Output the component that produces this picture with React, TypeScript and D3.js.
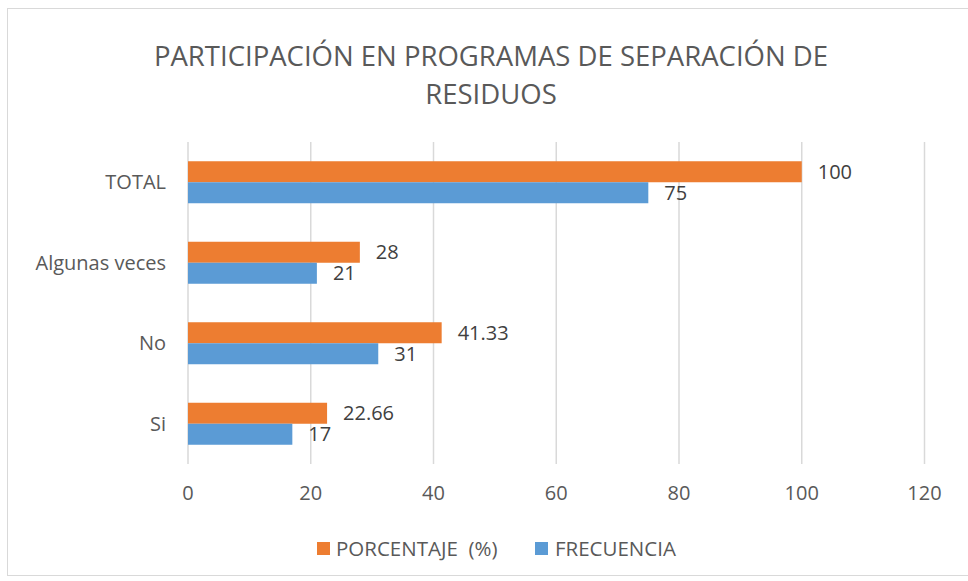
import React from "react";
import * as d3 from "d3";

// categories from top to bottom as in the picture
const categories = ["TOTAL", "Algunas veces", "No", "Si"];
const porcentaje = [100, 28, 41.33, 22.66];
const frecuencia = [75, 21, 31, 17];
const xTicks = [0, 20, 40, 60, 80, 100, 120];
const seriesNames = ["PORCENTAJE  (%)", "FRECUENCIA"];

const W = 968;
const H = 581;
const orange = "#ED7D31";
const blue = "#5B9BD5";
const font = "'Open Sans', sans-serif";

export default function App() {
  const x = d3.scaleLinear().domain([0, 120]).range([188, 924.5]);
  const y = d3.scaleBand().domain(categories).range([142, 464]).padding(0);
  const barH = 21;

  const series = [
    { name: seriesNames[0], values: porcentaje, color: orange, off: -barH },
    { name: seriesNames[1], values: frecuencia, color: blue, off: 0 },
  ];

  return (
    <svg
      width={W}
      height={H}
      style={{ position: "absolute", left: 0, top: 0, display: "block" }}
      fontFamily={font}
    >
      <rect x={0} y={0} width={W} height={H} fill="#fff" />
      <rect x={7.5} y={8.5} width={W} height={567} fill="none" stroke="#d9d9d9" strokeWidth={1} />

      {/* title */}
      <text x={491} y={66} textAnchor="middle" fontSize={27.5} fill="#595959">
        PARTICIPACIÓN EN PROGRAMAS DE SEPARACIÓN DE
      </text>
      <text x={491} y={104} textAnchor="middle" fontSize={27.5} fill="#595959">
        RESIDUOS
      </text>

      {/* grid */}
      {xTicks.map((t) => (
        <line key={t} x1={x(t)} x2={x(t)} y1={142} y2={464} stroke="#d9d9d9" strokeWidth={1.5} />
      ))}

      {/* bars */}
      {series.map((s) =>
        categories.map((c, i) => {
          const cy = y(c)! + y.bandwidth() / 2;
          return (
            <g key={s.name + c}>
              <rect x={x(0)} y={cy + s.off} width={x(s.values[i]) - x(0)} height={barH} fill={s.color} />
              <text
                x={x(s.values[i]) + 16}
                y={cy + s.off + barH / 2}
                dy="0.36em"
                fontSize={20}
                fill="#404040"
              >
                {s.values[i]}
              </text>
            </g>
          );
        })
      )}

      {/* category labels */}
      {categories.map((c) => (
        <text key={c} x={166} y={y(c)! + y.bandwidth() / 2} dy="0.36em" textAnchor="end" fontSize={20} fill="#595959">
          {c}
        </text>
      ))}

      {/* x tick labels */}
      {xTicks.map((t) => (
        <text key={t} x={x(t)} y={493} dy="0.36em" textAnchor="middle" fontSize={20} fill="#595959">
          {t}
        </text>
      ))}

      {/* legend */}
      <rect x={317} y={542} width={13} height={13} fill={orange} />
      <text x={336} y={549} dy="0.36em" fontSize={20.5} fill="#595959">
        {seriesNames[0].replace("  ", "\u00a0 ")}
      </text>
      <rect x={535} y={542} width={13} height={13} fill={blue} />
      <text x={555} y={549} dy="0.36em" fontSize={20.5} fill="#595959">
        {seriesNames[1]}
      </text>
    </svg>
  );
}
